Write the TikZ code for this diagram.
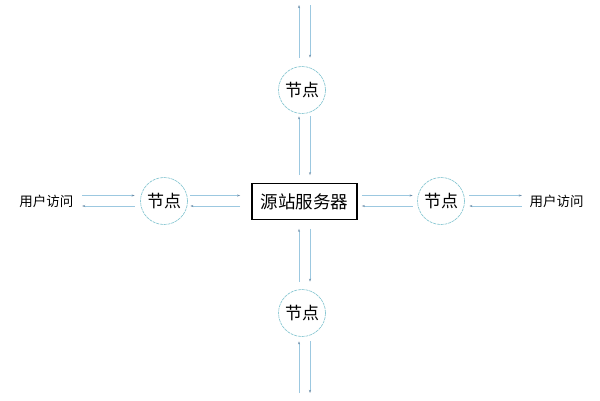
\documentclass[tikz,border=0pt]{standalone}
\usepackage{fontspec}
\newfontfamily\cjk{Noto Sans CJK SC}
\usetikzlibrary{arrows.meta,calc}
\definecolor{lineblue}{HTML}{9CC8E0}
\definecolor{circblue}{HTML}{7FC3CF}
\definecolor{tipcol}{HTML}{6A8CA8}
\tikzset{
  x=1pt, y=-1pt,
  peer/.style={circle, draw=circblue, dash pattern=on 3pt off 0.8pt, line width=0.6pt, minimum size=47pt, inner sep=0pt, font=\cjk\fontsize{17}{17}\selectfont},
  origin/.style={draw=black, line width=1.6pt, minimum width=105pt, minimum height=36pt, inner sep=0pt, font=\cjk\fontsize{17.5}{17.5}\selectfont},
  user/.style={font=\cjk\fontsize{13.5}{13.5}\selectfont, inner sep=0pt},
  flow/.style={draw=lineblue, line width=0.6pt, -{Stealth[length=3pt,width=2pt,color=tipcol]}},
}
\begin{document}
\begin{tikzpicture}
\useasboundingbox[fill=white] (0,0) rectangle (600,400);
\node[origin] (src) at (304.5,201.5) {源站服务器};
\node[peer] (nt) at (302,90) {节点};
\node[peer] (nb) at (302,313) {节点};
\node[peer] (nl) at (164,201) {节点};
\node[peer] (nr) at (441,201) {节点};
\node[user] (ul) at (46.5,201) {用户访问};
\node[user] (ur) at (556.5,201) {用户访问};
% free ends at the top and bottom
\coordinate (tl) at (299,5);
\coordinate (tr) at (310,5);
\coordinate (bl) at (299,393);
\coordinate (br) at (310,393);
% top outer
\draw[flow] ($(nt.north)+(-3,-8.5)$) -- (tl);
\draw[flow] (tr) -- ($(nt.north)+(8,-8.5)$);
% top node to source
\draw[flow] ($(src.north)+(-5.5,-7.5)$) -- ($(nt.south)+(-3,2.5)$);
\draw[flow] ($(nt.south)+(8,2.5)$) -- ($(src.north)+(5.5,-7.5)$);
% source to bottom node
\draw[flow] ($(nb.north)+(-3,-7.5)$) -- ($(src.south)+(-5.5,8.5)$);
\draw[flow] ($(src.south)+(5.5,8.5)$) -- ($(nb.north)+(8,-7.5)$);
% bottom outer
\draw[flow] (bl) -- ($(nb.south)+(-3,4.5)$);
\draw[flow] ($(nb.south)+(8,4.5)$) -- (br);
% left
\draw[flow] ($(ul.east)+(8.5,-5.5)$) -- ($(nl.west)+(-5.5,-5.5)$);
\draw[flow] ($(nl.west)+(-5.5,5)$) -- ($(ul.east)+(8.5,5)$);
\draw[flow] ($(nl.east)+(2.5,-5.5)$) -- ($(src.west)+(-11,-6)$);
\draw[flow] ($(src.west)+(-11,4.5)$) -- ($(nl.east)+(2.5,5)$);
% right
\draw[flow] ($(src.east)+(4,-6)$) -- ($(nr.west)+(-4.5,-5.5)$);
\draw[flow] ($(nr.west)+(-4.5,5)$) -- ($(src.east)+(4,4.5)$);
\draw[flow] ($(nr.east)+(4.5,-5.5)$) -- ($(ur.west)+(-7.5,-5.5)$);
\draw[flow] ($(ur.west)+(-7.5,5)$) -- ($(nr.east)+(4.5,5)$);
\end{tikzpicture}
\end{document}
